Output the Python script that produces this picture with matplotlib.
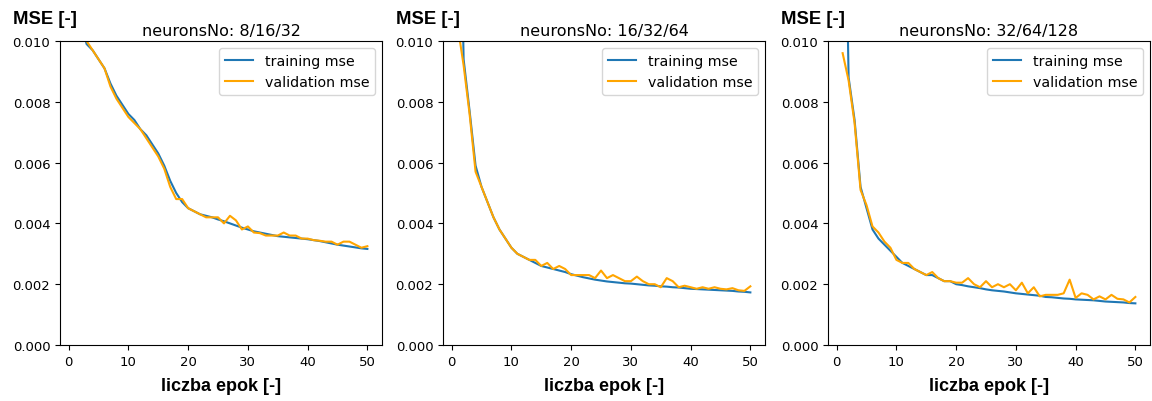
import matplotlib.pyplot as plt

# epoki 1..50
epochs = list(range(1, 51))

titles = ["neuronsNo: 8/16/32", "neuronsNo: 16/32/64", "neuronsNo: 32/64/128"]

train_1 = [0.0120, 0.0107, 0.0099, 0.0097, 0.0094, 0.0091, 0.0086, 0.0082, 0.0079, 0.0076,
           0.0074, 0.0071, 0.0069, 0.0066, 0.0063, 0.0059, 0.0054, 0.0050, 0.0047, 0.0045,
           0.0044, 0.0043, 0.00425, 0.0042, 0.00413, 0.00407, 0.0040, 0.00393, 0.00386, 0.0038,
           0.00374, 0.0037, 0.00366, 0.00362, 0.00358, 0.00356, 0.00354, 0.00352, 0.0035, 0.00348,
           0.00345, 0.00342, 0.00338, 0.00334, 0.0033, 0.00327, 0.00324, 0.00321, 0.00318, 0.00316]
valid_1 = [0.0121, 0.0108, 0.0100, 0.0097, 0.0094, 0.0091, 0.0085, 0.0081, 0.0078, 0.0075,
           0.0073, 0.0071, 0.0068, 0.0065, 0.0062, 0.0058, 0.0052, 0.0048, 0.0048, 0.0045,
           0.0044, 0.0043, 0.0042, 0.0042, 0.0042, 0.0040, 0.00425, 0.0041, 0.0038, 0.0039,
           0.0037, 0.00368, 0.0036, 0.0036, 0.0036, 0.0037, 0.0036, 0.0036, 0.0035, 0.0035,
           0.00345, 0.00343, 0.0034, 0.0034, 0.0033, 0.0034, 0.0034, 0.0033, 0.0032, 0.00325]

train_2 = [0.0200, 0.0094, 0.0077, 0.0059, 0.0052, 0.0047, 0.0042, 0.0038, 0.0035, 0.0032,
           0.0030, 0.0029, 0.0028, 0.0027, 0.0026, 0.00255, 0.0025, 0.00245, 0.0024, 0.00233,
           0.00228, 0.00223, 0.00219, 0.00215, 0.00212, 0.00209, 0.00207, 0.00205, 0.00203, 0.00202,
           0.002, 0.00198, 0.00196, 0.00195, 0.00193, 0.00192, 0.0019, 0.00189, 0.00187, 0.00185,
           0.00184, 0.00183, 0.00182, 0.00181, 0.0018, 0.00179, 0.00178, 0.00176, 0.00175, 0.00173]
valid_2 = [0.0105, 0.0092, 0.0076, 0.0057, 0.0052, 0.0047, 0.0042, 0.0038, 0.0035, 0.0032,
           0.0030, 0.0029, 0.0028, 0.0028, 0.0026, 0.0027, 0.0025, 0.0026, 0.0025, 0.0023,
           0.0023, 0.0023, 0.0023, 0.0022, 0.00245, 0.0022, 0.0023, 0.0022, 0.0021, 0.0021,
           0.00225, 0.0021, 0.0020, 0.0020, 0.0019, 0.0022, 0.0021, 0.0019, 0.00195, 0.0019,
           0.00185, 0.0019, 0.00185, 0.0019, 0.00185, 0.00183, 0.00187, 0.0018, 0.00178, 0.00193]

train_3 = [0.0200, 0.0088, 0.0074, 0.0052, 0.0045, 0.0038, 0.0035, 0.0033, 0.0031, 0.0029,
           0.0027, 0.0026, 0.0025, 0.0024, 0.0023, 0.0023, 0.0022, 0.0021, 0.0021, 0.0020,
           0.00197, 0.00193, 0.0019, 0.00187, 0.00183, 0.0018, 0.00178, 0.00176, 0.00173, 0.0017,
           0.00168, 0.00166, 0.00164, 0.00162, 0.00158, 0.00157, 0.00155, 0.00153, 0.00152, 0.0015,
           0.00149, 0.00148, 0.00147, 0.00145, 0.00143, 0.00142, 0.00141, 0.0014, 0.00138, 0.00137]
valid_3 = [0.0096, 0.0087, 0.0073, 0.0051, 0.0046, 0.0039, 0.0037, 0.0034, 0.0032, 0.0028,
           0.0027, 0.0027, 0.0025, 0.0024, 0.0023, 0.0024, 0.0022, 0.0021, 0.0021, 0.00205,
           0.00205, 0.0022, 0.0020, 0.0019, 0.0021, 0.0019, 0.0020, 0.0019, 0.0020, 0.0018,
           0.00205, 0.0017, 0.0019, 0.0016, 0.00165, 0.00165, 0.00165, 0.0017, 0.00215, 0.00155,
           0.0017, 0.00165, 0.0015, 0.0016, 0.0015, 0.00165, 0.00152, 0.0015, 0.0014, 0.00158]

trains = [train_1, train_2, train_3]
valids = [valid_1, valid_2, valid_3]

fig = plt.figure(figsize=(11.52, 4.02), dpi=100)
lefts = [60, 443, 828]

for i in range(3):
    ax = fig.add_axes([lefts[i] / 1152, (402 - 346) / 402, 322 / 1152, 304 / 402])
    ax.plot(epochs, trains[i], color='tab:blue', label='training mse')
    ax.plot(epochs, valids[i], color='orange', label='validation mse')
    ax.set_ylim(0, 0.010)
    ax.set_title(titles[i], fontsize=11.5, pad=4)
    ax.set_xlabel("liczba epok [-]", fontsize=13, fontweight='bold',
                  family='Liberation Sans', labelpad=7)
    ax.text(-0.145, 1.045, "MSE [-]", transform=ax.transAxes, fontsize=13.3,
            fontweight='bold', family='Liberation Sans', ha='left', va='bottom')
    ax.tick_params(labelsize=9.5)
    ax.legend(loc='upper right', fontsize=10.2)

plt.savefig("out.png")
